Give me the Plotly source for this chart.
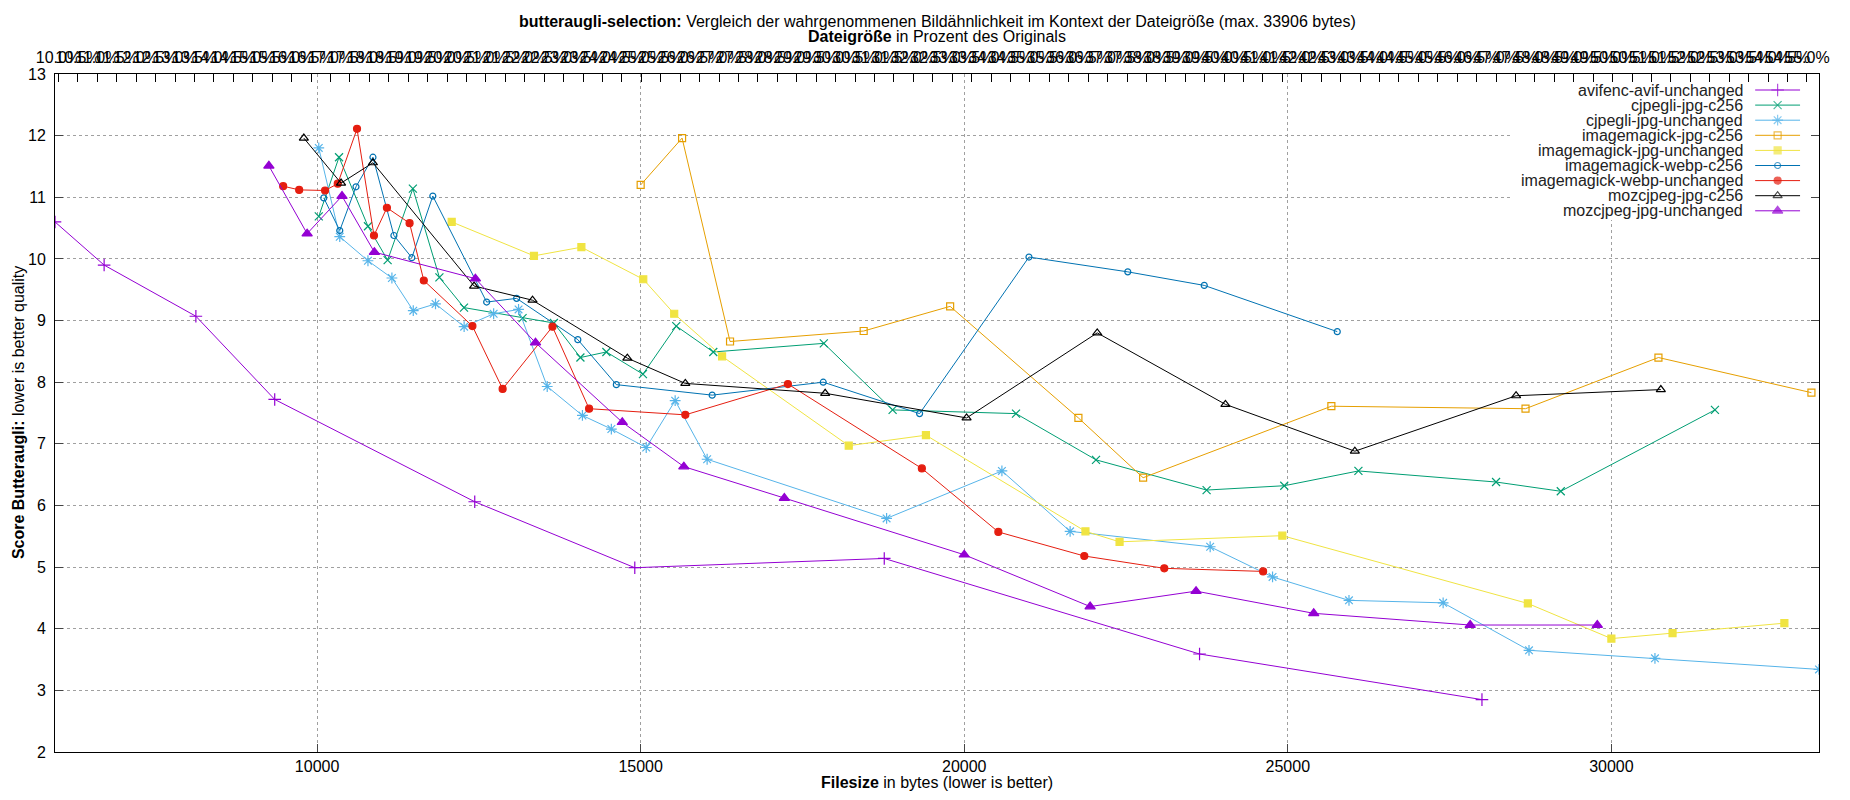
import plotly.graph_objects as go

# --- data ---
names = [
    "avifenc-avif-unchanged",
    "cjpegli-jpg-c256",
    "cjpegli-jpg-unchanged",
    "imagemagick-jpg-c256",
    "imagemagick-jpg-unchanged",
    "imagemagick-webp-c256",
    "imagemagick-webp-unchanged",
    "mozcjpeg-jpg-c256",
    "mozcjpeg-jpg-unchanged",
]

avif_x = [5950, 6709, 8127, 9345, 12436, 14909, 18764, 23636, 28000]
avif_y = [10.6, 9.9, 9.07, 7.72, 6.06, 4.99, 5.14, 3.59, 2.85]

cjpegli_c256_x = [10026, 10339, 10786, 11090, 11480, 11890, 12270, 13175, 13659, 14069, 14470, 15035,
                  15550, 16122, 17830, 18893, 20800, 22036, 23745, 24945, 26091, 28218, 29218, 31600]
cjpegli_c256_y = [10.69, 11.65, 10.53, 9.98, 11.14, 9.70, 9.21, 9.04, 8.96, 8.40, 8.49, 8.13,
                  8.91, 8.49, 8.63, 7.55, 7.49, 6.74, 6.25, 6.32, 6.56, 6.38, 6.23, 7.55]

cjpegli_unch_x = [10026, 10350, 10786, 11156, 11486, 11830, 12272, 12728, 13113, 13556, 14100, 14547, 15086,
                  15533, 16027, 18800, 20582, 21636, 23800, 24764, 25945, 27400, 28727, 30673, 33208]
cjpegli_unch_y = [11.80, 10.36, 9.97, 9.69, 9.16, 9.27, 8.90, 9.11, 9.18, 7.93, 7.46, 7.24, 6.94,
                  7.70, 6.75, 5.79, 6.56, 5.58, 5.33, 4.84, 4.46, 4.42, 3.65, 3.52, 3.34]

im_jpg_c256_x = [15000, 15640, 16381, 18446, 19782, 21764, 22764, 25673, 28673, 30727, 33091]
im_jpg_c256_y = [11.20, 11.96, 8.66, 8.83, 9.23, 7.42, 6.45, 7.61, 7.57, 8.40, 7.83]

im_jpg_unch_x = [12080, 13351, 14084, 15040, 15518, 16258, 18215, 19408, 21873, 22400, 24915, 28709,
                 30000, 30945, 32673]
im_jpg_unch_y = [10.60, 10.05, 10.19, 9.67, 9.11, 8.42, 6.97, 7.14, 5.58, 5.41, 5.51, 4.41,
                 3.84, 3.93, 4.09]

im_webp_c256_x = [10103, 10350, 10601, 10863, 11187, 11464, 11788, 12620, 13083, 14029, 14624, 16105,
                  17821, 19310, 21000, 22527, 23709, 25764]
im_webp_c256_y = [10.99, 10.46, 11.17, 11.65, 10.38, 10.02, 11.02, 9.30, 9.36, 8.69, 7.96, 7.79,
                  8.00, 7.49, 10.03, 9.79, 9.57, 8.82]

im_webp_unch_x = [9476, 9723, 10123, 10319, 10617, 10879, 11079, 11429, 11649, 12400, 12867, 13637,
                  14203, 15690, 17275, 19345, 20527, 21855, 23091, 24618]
im_webp_unch_y = [11.18, 11.12, 11.11, 11.22, 12.11, 10.38, 10.83, 10.58, 9.65, 8.91, 7.89, 8.90,
                  7.57, 7.47, 7.97, 6.60, 5.57, 5.18, 4.98, 4.93]

moz_c256_x = [9795, 10370, 10863, 12426, 13329, 14794, 15690, 17851, 20036, 22055, 24036, 26036, 28527, 30764]
moz_c256_y = [11.96, 11.23, 11.56, 9.56, 9.33, 8.39, 7.98, 7.82, 7.42, 8.80, 7.64, 6.88, 7.78, 7.88]

moz_unch_x = [9255, 9846, 10385, 10885, 12446, 13375, 14716, 15667, 17220, 20000, 21945, 23582, 25400,
              27818, 29782]
moz_unch_y = [11.51, 10.41, 11.02, 10.11, 9.68, 8.64, 7.35, 6.63, 6.12, 5.20, 4.36, 4.61, 4.25,
              4.06, 4.06]

xs = [avif_x, cjpegli_c256_x, cjpegli_unch_x, im_jpg_c256_x, im_jpg_unch_x,
      im_webp_c256_x, im_webp_unch_x, moz_c256_x, moz_unch_x]
ys = [avif_y, cjpegli_c256_y, cjpegli_unch_y, im_jpg_c256_y, im_jpg_unch_y,
      im_webp_c256_y, im_webp_unch_y, moz_c256_y, moz_unch_y]

x_ticks = [10000, 15000, 20000, 25000, 30000]
y_ticks = [2, 3, 4, 5, 6, 7, 8, 9, 10, 11, 12, 13]
pct_first, pct_last, pct_step = 10.0, 55.0, 0.5
pct_ticks = [pct_first + i * pct_step for i in range(int(round((pct_last - pct_first) / pct_step)) + 1)]
pct_labels = ["%.1f%%" % p for p in pct_ticks]

# gnuplot default line colours / point types
colors = ["#9400d3", "#009e73", "#56b4e9", "#e69f00", "#f0e442",
          "#0072b2", "#e51e10", "#000000", "#9400d3"]
symbols = ["cross-thin-open", "x-thin-open", "asterisk-open", "square-open", "square",
           "circle-open", "circle", "triangle-up-open", "triangle-up"]
sizes = [9, 8, 9, 7, 7, 6, 7, 8, 9]

FONT = "Liberation Sans, Arial, sans-serif"
OFF = 8                       # default body margin of the html page
W, H = 1850 - 2 * OFF, 800 - 2 * OFF
# plot area wanted in page pixels: x 55..1824, y 74..752
PX0, PX1, PY0, PY1 = 55 - OFF, 1824 - OFF, 74 - OFF, 752 - OFF
L, R, T, B = PX0, W - PX1, PY0, H - PY1


def py(page_y):
    # page pixel y -> paper coordinate
    return (PY1 - (page_y - OFF)) / (PY1 - PY0)


def px(page_x):
    return ((page_x - OFF) - PX0) / (PX1 - PX0)


fig = go.Figure()

for n, x, y, c, s, sz in zip(names, xs, ys, colors, symbols, sizes):
    fig.add_trace(go.Scatter(
        x=x, y=y, name=n, mode="lines+markers",
        line=dict(color=c, width=1),
        marker=dict(symbol=s, size=sz, color=c, line=dict(color=c, width=1.2)),
        showlegend=False,
    ))

# empty trace so that the top percent axis gets drawn
fig.add_trace(go.Scatter(x=[pct_first, pct_last], y=[None, None], xaxis="x2", yaxis="y",
                         mode="lines", showlegend=False, hoverinfo="skip"))

# gnuplot-like key (page pixels): white box over the grid, text right-aligned, sample to the right
key_box = (1517, 1824, 74, 220)
fig.add_trace(go.Scatter(
    x=[key_box[0], key_box[1], key_box[1], key_box[0], key_box[0]],
    y=[key_box[2], key_box[2], key_box[3], key_box[3], key_box[2]],
    xaxis="x3", yaxis="y3", mode="lines", fill="toself", fillcolor="white",
    line=dict(width=0, color="white"), showlegend=False, hoverinfo="skip",
))

key_text_x = 1750
key_line = (1760, 1805)
key_y0, key_dy = 90, 15.1
annotations = []
for i, (n, c, s, sz) in enumerate(zip(names, colors, symbols, sizes)):
    ky = key_y0 + i * key_dy
    fig.add_trace(go.Scatter(
        x=[key_line[0], (key_line[0] + key_line[1]) / 2, key_line[1]], y=[ky, ky, ky],
        xaxis="x3", yaxis="y3", mode="lines+markers",
        line=dict(color=c, width=1),
        marker=dict(symbol=s, size=[0, sz, 0], color=c, line=dict(color=c, width=1.2)),
        showlegend=False, hoverinfo="skip",
    ))
    annotations.append(dict(x=key_text_x, y=ky, xref="x3", yref="y3", text=n, showarrow=False,
                            xanchor="right", yanchor="middle", font=dict(size=16, color="#222")))

annotations += [
    dict(x=0.5, y=py(21), xref="paper", yref="paper", showarrow=False,
         text="<b>butteraugli-selection:</b> Vergleich der wahrgenommenen Bildähnlichkeit im Kontext "
              "der Dateigröße (max. 33906 bytes)",
         xanchor="center", yanchor="middle", font=dict(size=16, color="black")),
    dict(x=0.5, y=py(37), xref="paper", yref="paper", showarrow=False,
         text="<b>Dateigröße</b> in Prozent des Originals",
         xanchor="center", yanchor="middle", font=dict(size=16, color="black")),
    dict(x=0.5, y=py(782), xref="paper", yref="paper", showarrow=False,
         text="<b>Filesize</b> in bytes (lower is better)",
         xanchor="center", yanchor="middle", font=dict(size=16, color="black")),
    dict(x=px(18), y=0.5, xref="paper", yref="paper", showarrow=False,
         text="<b>Score Butteraugli:</b> lower is better quality", textangle=-90,
         xanchor="center", yanchor="middle", font=dict(size=16, color="black")),
]

all_x = [v for x in xs for v in x]
grid = dict(showgrid=True, gridcolor="#a0a0a0", griddash="dot", gridwidth=1)

fig.update_layout(
    width=W, height=H,
    margin=dict(l=L, r=R, t=T, b=B, pad=0),
    paper_bgcolor="white", plot_bgcolor="white",
    font=dict(family=FONT, size=16, color="black"),
    showlegend=False,
    xaxis=dict(range=[min(all_x), max(all_x)], tickvals=x_ticks, ticktext=[str(v) for v in x_ticks],
               ticks="inside", ticklen=8,
               showline=True, linecolor="black", linewidth=1, mirror=True, zeroline=False, **grid),
    yaxis=dict(range=[2, 13], tickvals=y_ticks, ticks="inside", ticklen=8, ticklabelstandoff=5,
               showline=True, linecolor="black", linewidth=1, mirror="ticks", zeroline=False, **grid),
    xaxis2=dict(overlaying="x", side="top", anchor="y", range=[9.91, 55.31],
                tickvals=pct_ticks, ticktext=pct_labels, tickangle=0, ticks="inside", ticklen=8,
                ticklabelstandoff=7, tickcolor="black", showgrid=False, zeroline=False, showline=False),
    xaxis3=dict(overlaying="x", anchor="y3", range=[PX0 + OFF, PX1 + OFF], visible=False),
    yaxis3=dict(overlaying="y", anchor="x3", range=[PY1 + OFF, PY0 + OFF], visible=False),
    annotations=annotations,
)

fig.write_html("out.html")
